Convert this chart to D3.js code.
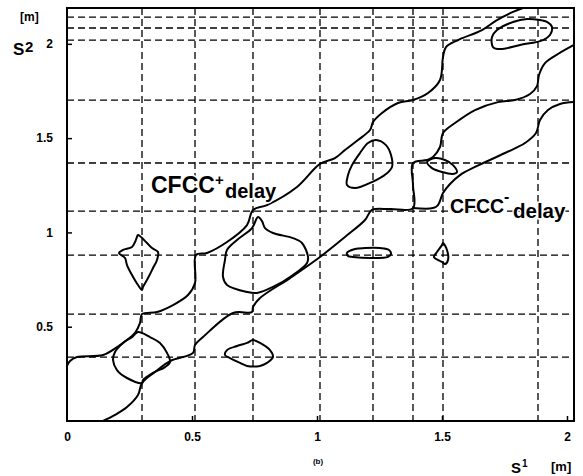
<!DOCTYPE html>
<html>
<head>
<meta charset="utf-8">
<script src="https://cdn.jsdelivr.net/npm/d3@7"></script>
<style>
body { margin: 0; background: #fff; }
svg text { font-family: "Liberation Sans", Arial, sans-serif; font-weight: bold; fill: #000; }
.band { stroke: #fff; stroke-width: 3px; paint-order: stroke; }
</style>
</head>
<body>
<svg width="583" height="476"></svg>
<script>
// tick values
var xTicks = [0, 0.5, 1, 1.5, 2];
var yTicks = [0.5, 1, 1.5, 2];

// dashed delay grid
var gridX = [0.30, 0.512, 0.744, 1.012, 1.224, 1.384, 1.504, 1.884];
var gridY = [0.339, 0.567, 0.880, 1.113, 1.368, 1.702, 2.020, 2.084, 2.142];

// long contour lines [s1, s2]
var lineA = [[0, 0.292], [0.012, 0.318], [0.04, 0.339], [0.144, 0.350], [0.2, 0.392], [0.272, 0.467],
  [0.292, 0.520], [0.30, 0.567], [0.36, 0.578], [0.424, 0.615], [0.484, 0.668], [0.512, 0.732],
  [0.516, 0.880], [0.56, 0.891], [0.64, 0.949], [0.72, 1.039], [0.744, 1.119], [0.80, 1.145],
  [0.92, 1.241], [1.012, 1.363], [1.072, 1.394], [1.112, 1.437], [1.164, 1.490], [1.212, 1.543],
  [1.224, 1.585], [1.26, 1.633], [1.324, 1.686], [1.384, 1.702], [1.444, 1.739], [1.492, 1.808],
  [1.504, 1.930], [1.516, 1.983], [1.564, 2.020], [1.66, 2.073], [1.72, 2.126], [1.784, 2.169], [1.824, 2.19]];

var lineB = [[0.144, 0], [0.192, 0.032], [0.24, 0.074], [0.284, 0.138], [0.30, 0.201], [0.352, 0.260],
  [0.412, 0.318], [0.504, 0.361], [0.512, 0.403], [0.544, 0.445], [0.664, 0.573], [0.74, 0.578],
  [0.744, 0.604], [0.772, 0.652], [0.892, 0.758], [1.012, 0.870], [1.112, 0.976], [1.192, 1.066],
  [1.22, 1.119], [1.292, 1.124], [1.384, 1.129], [1.384, 1.251], [1.384, 1.368], [1.44, 1.384],
  [1.464, 1.400], [1.492, 1.453], [1.504, 1.527], [1.552, 1.580], [1.632, 1.649], [1.724, 1.691],
  [1.792, 1.702], [1.852, 1.734], [1.88, 1.776], [1.888, 1.835], [1.912, 1.898], [1.964, 1.946], [2.028, 1.994]];

var lineC = [[1.384, 1.129], [1.464, 1.129], [1.484, 1.145], [1.504, 1.209], [1.532, 1.257], [1.572, 1.304],
  [1.632, 1.347], [1.752, 1.421], [1.832, 1.474], [1.876, 1.527], [1.892, 1.596], [1.924, 1.649],
  [1.972, 1.681], [2.028, 1.691]];

// closed contours
var blobLowLeft = [[0.284, 0.472], [0.332, 0.445], [0.372, 0.414], [0.40, 0.361], [0.412, 0.313], [0.392, 0.286],
  [0.344, 0.255], [0.304, 0.217], [0.30, 0.201], [0.24, 0.228], [0.20, 0.270], [0.184, 0.324],
  [0.192, 0.366], [0.224, 0.414], [0.26, 0.445]];
var blobDiamond = [[0.284, 0.986], [0.32, 0.944], [0.34, 0.917], [0.364, 0.896], [0.36, 0.854], [0.344, 0.811],
  [0.324, 0.758], [0.304, 0.711], [0.30, 0.695], [0.284, 0.721], [0.26, 0.774], [0.24, 0.827],
  [0.232, 0.864], [0.208, 0.891], [0.224, 0.907], [0.26, 0.923], [0.272, 0.949], [0.28, 0.976]];
var blobBig = [[0.764, 1.082], [0.78, 1.060], [0.792, 1.023], [0.824, 0.997], [0.904, 0.970], [0.94, 0.944],
  [0.964, 0.870], [0.96, 0.838], [0.904, 0.774], [0.824, 0.711], [0.76, 0.679], [0.72, 0.684],
  [0.64, 0.721], [0.624, 0.764], [0.632, 0.854], [0.64, 0.907], [0.68, 0.960], [0.74, 1.023]];
var blobLowMid = [[0.744, 0.429], [0.772, 0.414], [0.812, 0.376], [0.824, 0.339], [0.80, 0.308], [0.772, 0.292],
  [0.72, 0.292], [0.692, 0.308], [0.652, 0.334], [0.632, 0.350], [0.64, 0.376], [0.68, 0.398], [0.72, 0.414]];
var blobEllipse = [[1.12, 0.891], [1.152, 0.912], [1.192, 0.917], [1.252, 0.917], [1.288, 0.907], [1.296, 0.886],
  [1.284, 0.870], [1.212, 0.864], [1.144, 0.870], [1.124, 0.875]];
var blobTriangle = [[1.504, 0.944], [1.52, 0.907], [1.524, 0.854], [1.512, 0.832], [1.50, 0.843], [1.468, 0.870],
  [1.48, 0.896], [1.50, 0.933]];
var blobMidUpper = [[1.236, 1.490], [1.276, 1.463], [1.296, 1.410], [1.30, 1.347], [1.276, 1.310], [1.22, 1.267],
  [1.152, 1.235], [1.12, 1.251], [1.124, 1.304], [1.14, 1.357], [1.172, 1.421], [1.204, 1.474]];
var blobSmall = [[1.44, 1.373], [1.472, 1.394], [1.512, 1.384], [1.544, 1.357], [1.56, 1.320], [1.544, 1.310],
  [1.50, 1.320], [1.46, 1.341]];
var blobTopRight = [[1.92, 2.116], [1.94, 2.089], [1.932, 2.047], [1.904, 2.020], [1.812, 1.994], [1.732, 1.972],
  [1.704, 1.983], [1.70, 2.036], [1.72, 2.073], [1.784, 2.116], [1.84, 2.132], [1.892, 2.126]];

var openLines = [lineA, lineB, lineC];
var closedLines = [blobLowLeft, blobDiamond, blobBig, blobLowMid, blobEllipse, blobTriangle,
  blobMidUpper, blobSmall, blobTopRight];

var svg = d3.select("svg");

var x = d3.scaleLinear().domain([0, 2.028]).range([67, 574]);
var y = d3.scaleLinear().domain([0, 2.19]).range([421, 8]);

// grid
svg.selectAll(".gx").data(gridX).enter().append("line")
  .attr("x1", d => x(d)).attr("x2", d => x(d))
  .attr("y1", y(2.19)).attr("y2", y(0))
  .attr("stroke", "#000").attr("stroke-width", 1.3)
  .attr("stroke-dasharray", "7,4");

svg.selectAll(".gy").data(gridY).enter().append("line")
  .attr("y1", d => y(d)).attr("y2", d => y(d))
  .attr("x1", x(0)).attr("x2", x(2.028))
  .attr("stroke", "#000").attr("stroke-width", 1.3)
  .attr("stroke-dasharray", "7,4");

// contours
var lineGen = d3.line().x(d => x(d[0])).y(d => y(d[1])).curve(d3.curveCatmullRom.alpha(0.5));
var loopGen = d3.line().x(d => x(d[0])).y(d => y(d[1])).curve(d3.curveCatmullRomClosed.alpha(0.5));

svg.selectAll(".open").data(openLines).enter().append("path")
  .attr("d", lineGen)
  .attr("fill", "none").attr("stroke", "#000").attr("stroke-width", 2)
  .attr("stroke-linejoin", "round");

svg.selectAll(".closed").data(closedLines).enter().append("path")
  .attr("d", loopGen)
  .attr("fill", "none").attr("stroke", "#000").attr("stroke-width", 2)
  .attr("stroke-linejoin", "round");

// frame
svg.append("rect")
  .attr("x", x(0)).attr("y", y(2.19))
  .attr("width", x(2.028) - x(0)).attr("height", y(0) - y(2.19))
  .attr("fill", "none").attr("stroke", "#000").attr("stroke-width", 2);

// axes
var yAxis = svg.append("g").attr("transform", "translate(" + x(0) + ",0)")
  .call(d3.axisLeft(y).tickValues(yTicks).tickSize(-5).tickPadding(14).tickFormat(d => String(d)));
var xAxis = svg.append("g").attr("transform", "translate(0," + y(0) + ")")
  .call(d3.axisBottom(x).tickValues(xTicks).tickSize(-5).tickPadding(11).tickFormat(d => String(d)));

[yAxis, xAxis].forEach(function(g) {
  g.select(".domain").remove();
  g.selectAll(".tick line").attr("stroke", "#000").attr("stroke-width", 1.5);
  g.selectAll(".tick text").attr("font-size", "12px")
    .style("font-family", '"Liberation Sans", Arial, sans-serif').style("font-weight", "bold");
});
xAxis.selectAll(".tick line").filter(d => d === 0).remove();

// axis titles
svg.append("text").attr("x", 20).attr("y", 21).attr("font-size", "12px").text("[m]");
svg.append("text").attr("x", 13).attr("y", 55).attr("font-size", "17px").text("S");
svg.append("text").attr("x", 25).attr("y", 52).attr("font-size", "15px").text("2");

svg.append("text").attr("x", 511).attr("y", 473).attr("font-size", "15px").text("S");
svg.append("text").attr("x", 522).attr("y", 467).attr("font-size", "10px").text("1");
svg.append("text").attr("x", 551).attr("y", 471).attr("font-size", "13px").text("[m]");

svg.append("text").attr("x", 318).attr("y", 464).attr("font-size", "8px")
  .attr("text-anchor", "middle").text("(b)");

// band labels
svg.append("text").attr("class", "band").attr("x", 151).attr("y", 193).attr("font-size", "23px").text("CFCC");
svg.append("text").attr("class", "band").attr("x", 215).attr("y", 185).attr("font-size", "15px").text("+");
svg.append("text").attr("class", "band").attr("x", 225).attr("y", 198).attr("font-size", "20px").text("delay");

svg.append("text").attr("class", "band").attr("x", 450).attr("y", 213).attr("font-size", "19.5px").text("CFCC");
svg.append("text").attr("class", "band").attr("x", 504).attr("y", 202).attr("font-size", "16px").text("-");
svg.append("text").attr("class", "band").attr("x", 513).attr("y", 218).attr("font-size", "20.5px").text("delay");
</script>
</body>
</html>
